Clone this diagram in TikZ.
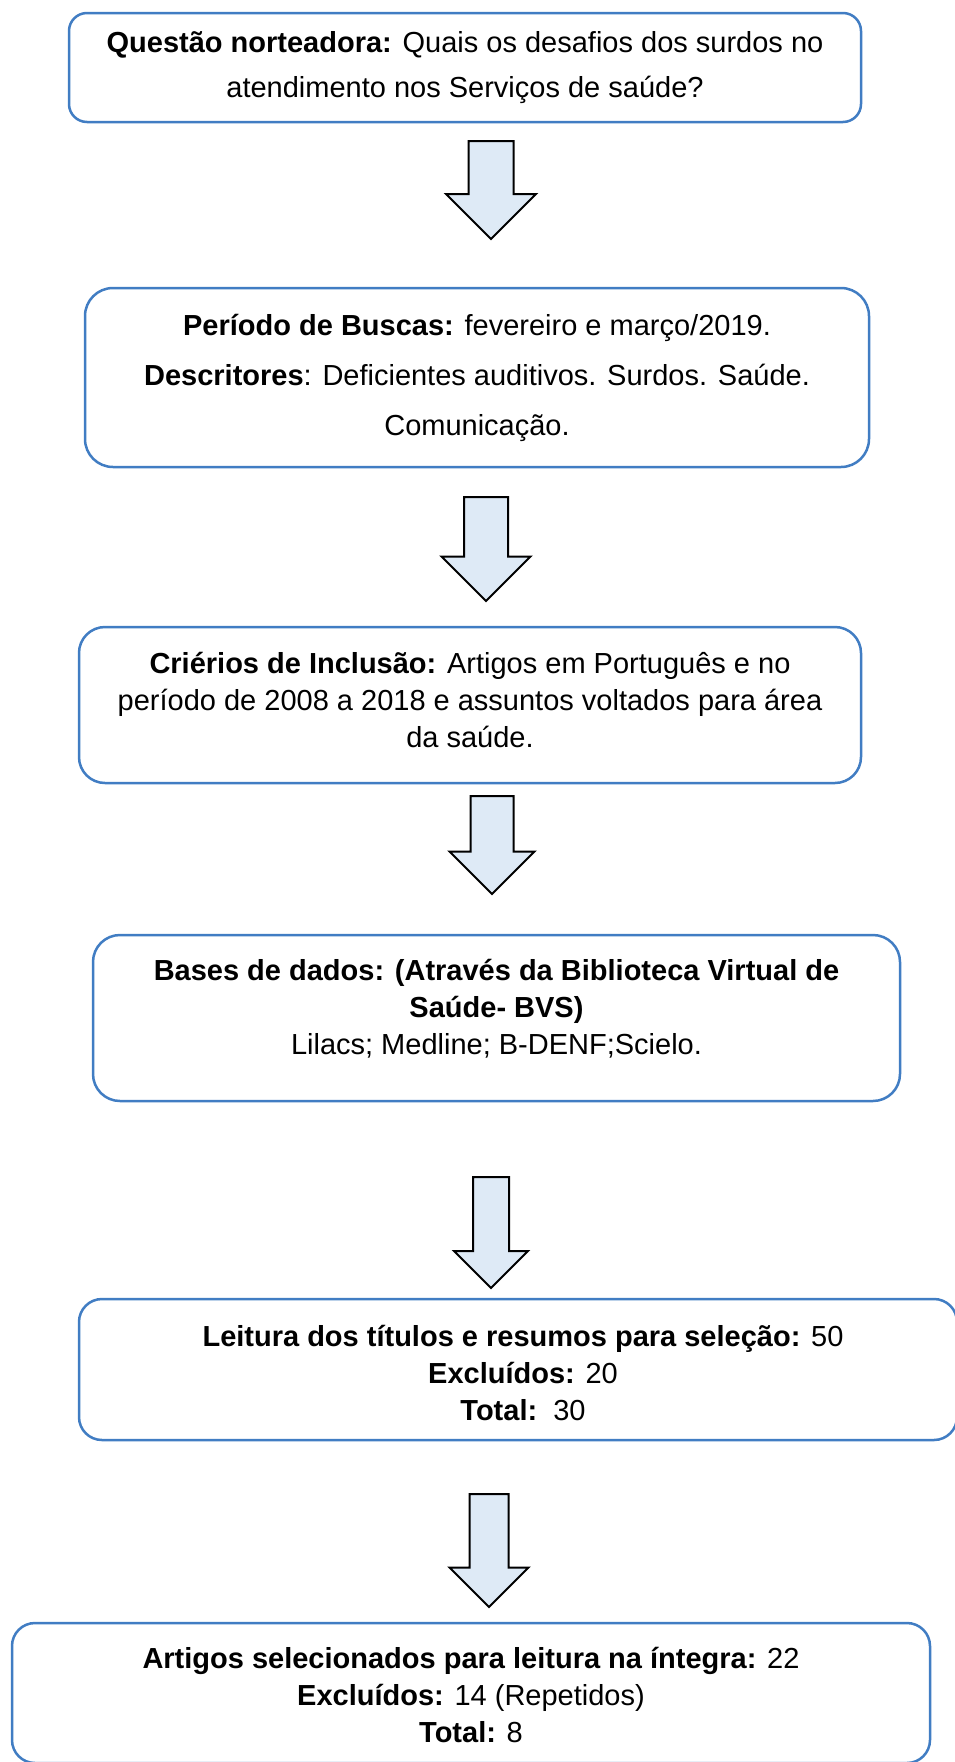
\documentclass[tikz,border=0pt]{standalone}
\usepackage{fontspec}
\setmainfont{Liberation Sans}
\usetikzlibrary{positioning, calc}

\definecolor{boxblue}{RGB}{65,125,195}
\definecolor{arrowfill}{RGB}{222,234,246}

\tikzset{
	stagebox/.style={draw=boxblue, line width=2.5pt, fill=white, inner sep=0pt},
	stagetext/.style={align=center, inner sep=0pt, font=\fontsize{29}{37}\selectfont},
	blockarrow/.style={draw=black, line width=2pt, fill=arrowfill, line join=miter},
}

% seta larga: topo, ponta, largura da haste, largura da cabeca
\newcommand{\BlockArrow}[4]{%
	\draw[blockarrow] ($(#1)+({-#3/2},0)$) -- ($(#1)+({#3/2},0)$)
		-- ($(#2)+({#3/2},{-#4/2})$) -- ($(#2)+({#4/2},{-#4/2})$)
		-- (#2) -- ($(#2)+({-#4/2},{-#4/2})$) -- ($(#2)+({-#3/2},{-#4/2})$) -- cycle;}

\begin{document}
\begin{tikzpicture}[x=1pt, y=-1pt]
		\useasboundingbox (0,0) rectangle (954,1762);
		
		% Questao norteadora
		\node[stagebox, minimum width=792pt, minimum height=109pt, rounded corners=18pt] (questao) at (465,67.5) {};
		\node[stagetext, font=\fontsize{29}{45}\selectfont] (questao-txt) at (questao.center) {\textbf{Questão norteadora:} Quais os desafios dos surdos no\\atendimento nos Serviços de saúde?};
		
		% Periodo de buscas
		\node[stagebox, minimum width=784pt, minimum height=179pt, rounded corners=28pt] (buscas) at (477,377.5) {};
		\node[stagetext, font=\fontsize{29}{50}\selectfont] (buscas-txt) at (buscas.center) {\textbf{Período de Buscas:} fevereiro e março/2019.\\\textbf{Descritores}: Deficientes auditivos. Surdos. Saúde.\\Comunicação.};
		
		% Criterios de inclusao
		\node[stagebox, minimum width=782pt, minimum height=156pt, rounded corners=26pt] (criterios) at (470,705) {};
		\node[stagetext] (criterios-txt) at ([yshift=5pt]criterios.center) {\textbf{Criérios de Inclusão:} Artigos em Português e no\\período de 2008 a 2018 e assuntos voltados para área\\da saúde.};
		
		% Bases de dados
		\node[stagebox, minimum width=807pt, minimum height=166pt, rounded corners=27pt] (bases) at (496.5,1018) {};
		\node[stagetext] (bases-txt) at ([yshift=9pt]bases.center) {\textbf{Bases de dados: (Através da Biblioteca Virtual de}\\\textbf{Saúde- BVS)}\\Lilacs; Medline; B-DENF;Scielo.};
		
		% Leitura dos titulos
		\node[stagebox, minimum width=878pt, minimum height=141pt, rounded corners=23pt] (leitura) at (518,1369.5) {};
		\node[stagetext] (leitura-txt) at ([xshift=5pt, yshift=-3pt]leitura.center) {\textbf{Leitura dos títulos e resumos para seleção:} 50\\\textbf{Excluídos:} 20\\\textbf{Total:}\ \ 30};
		
		% Artigos selecionados
		\node[stagebox, minimum width=918pt, minimum height=140pt, rounded corners=23pt] (artigos) at (471,1693) {};
		\node[stagetext] (artigos-txt) at ([yshift=-1.5pt]artigos.center) {\textbf{Artigos selecionados para leitura na íntegra:} 22\\\textbf{Excluídos:} 14 (Repetidos)\\\textbf{Total:} 8};
		
		% Setas entre as etapas
		\coordinate (seta1-top) at (491,141);  \coordinate (seta1-tip) at (491,239);
		\coordinate (seta2-top) at (486,497);  \coordinate (seta2-tip) at (486,601);
		\coordinate (seta3-top) at (492,796);  \coordinate (seta3-tip) at (492,894);
		\coordinate (seta4-top) at (491,1177); \coordinate (seta4-tip) at (491,1288);
		\coordinate (seta5-top) at (489,1494); \coordinate (seta5-tip) at (489,1607);
		\BlockArrow{seta1-top}{seta1-tip}{45}{90}
		\BlockArrow{seta2-top}{seta2-tip}{44}{89}
		\BlockArrow{seta3-top}{seta3-tip}{43}{85}
		\BlockArrow{seta4-top}{seta4-tip}{36}{74}
		\BlockArrow{seta5-top}{seta5-tip}{39}{79}
		
	\end{tikzpicture}
\end{document}
